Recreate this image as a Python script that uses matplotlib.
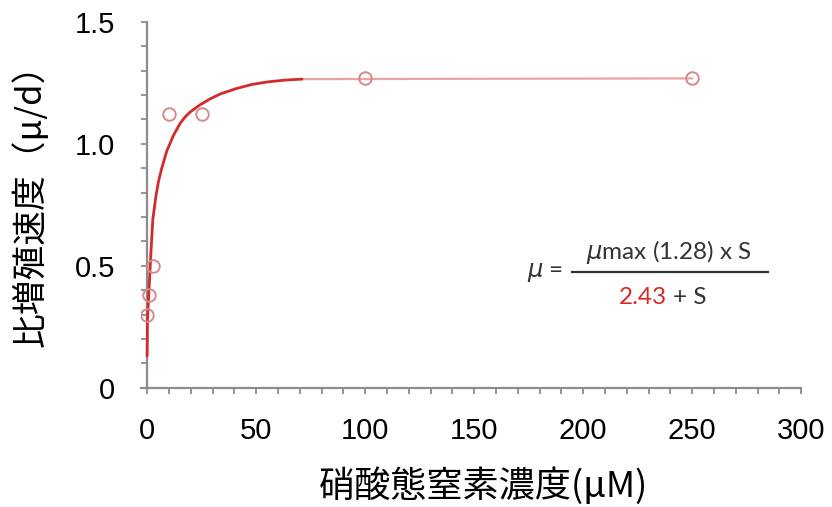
import matplotlib
matplotlib.use("Agg")
from matplotlib import pyplot as plt
from matplotlib.lines import Line2D

# datos medidos (硝酸態窒素濃度 vs 比増殖速度)
conc = [0, 0.7, 2.6, 10, 25, 100, 250]
tasa = [0.30, 0.38, 0.50, 1.12, 1.12, 1.27, 1.27]

# curva ajustada
curva_s = [0.0, 0.15, 0.9, 1.7, 2.6, 4.1, 5.2, 6.7, 9.0, 12.1, 15.1, 17.4, 19.7, 24.3,
           28.9, 33.5, 40.4, 48.0, 55.6, 63.3, 71.0]
curva_mu = [0.13, 0.28, 0.41, 0.55, 0.69, 0.79, 0.845, 0.90, 0.97, 1.035, 1.083, 1.11,
            1.13, 1.16, 1.184, 1.204, 1.225, 1.243, 1.254, 1.261, 1.265]

# tramo horizontal (meseta)
meseta_s = [71.0, 250.0]
meseta_mu = [1.265, 1.268]

xticks = [0, 50, 100, 150, 200, 250, 300]
yticks = [0, 0.5, 1.0, 1.5]
ytick_labels = ["0", "0.5", "1.0", "1.5"]

plt.rcParams["font.family"] = ["Noto Sans CJK JP", "DejaVu Sans"]

fig = plt.figure(figsize=(8.32, 5.07), dpi=100)
ax = fig.add_axes([0.169, 0.2353, 0.794, 0.7217])

gris = "#8c8c8c"
ax.plot(meseta_s, meseta_mu, color="#e9a3a3", lw=1.6, zorder=2)
ax.plot(curva_s, curva_mu, color="#d62a2a", lw=2.0, zorder=3,
        solid_joinstyle="round", solid_capstyle="round")
ax.plot(conc, tasa, "o", mfc="none", mec="#d48a8a", mew=1.4, ms=9, zorder=4)

ax.set_xlim(-3, 300)
ax.set_ylim(0, 1.5)
ax.spines["top"].set_visible(False)
ax.spines["right"].set_visible(False)
ax.spines["left"].set_position(("data", 0))
ax.spines["left"].set_color(gris)
ax.spines["bottom"].set_color(gris)
ax.spines["left"].set_linewidth(1.6)
ax.spines["bottom"].set_linewidth(1.6)

ax.set_xticks(xticks)
ax.set_xticks(range(0, 301, 10), minor=True)
ax.set_yticks(yticks)
ax.set_yticklabels(ytick_labels)
ax.set_yticks([i / 10 for i in range(16)], minor=True)
ax.tick_params(which="both", direction="out", length=4, width=1.3, color=gris)
ax.tick_params(axis="y", which="major", pad=19)
ax.tick_params(axis="x", which="major", pad=17)
for lab in ax.get_xticklabels() + ax.get_yticklabels():
    lab.set_fontfamily("Liberation Sans")
    lab.set_fontsize(21)

fig.text(0.036, 1 - 196.5 / 507, "比増殖速度（μ/d）", rotation=90,
         ha="center", va="center", fontsize=25)
fig.text(483 / 832, 1 - 486 / 507, "硝酸態窒素濃度(μM)",
         ha="center", va="center", fontsize=26)

# formula
fs = 17.5
fig.text(545 / 832, 1 - 273 / 507, "$\\mu$ =", ha="center", va="center",
         fontsize=fs, family="Lato", color="#333333")
fig.text(669 / 832, 1 - 252 / 507, "$\\mu$max (1.28) x S", ha="center", va="center",
         fontsize=fs, family="Lato", color="#333333")
fig.text(667 / 832, 1 - 297 / 507, "2.43", ha="right", va="center",
         fontsize=fs, family="Lato", color="#d62a2a")
fig.text(673 / 832, 1 - 297 / 507, "+ S", ha="left", va="center",
         fontsize=fs, family="Lato", color="#333333")
fig.add_artist(Line2D([572 / 832, 768 / 832], [1 - 272 / 507, 1 - 272 / 507],
                      color="#333333", lw=1.6))

fig.savefig("out.png", dpi=100)
plt.close(fig)
